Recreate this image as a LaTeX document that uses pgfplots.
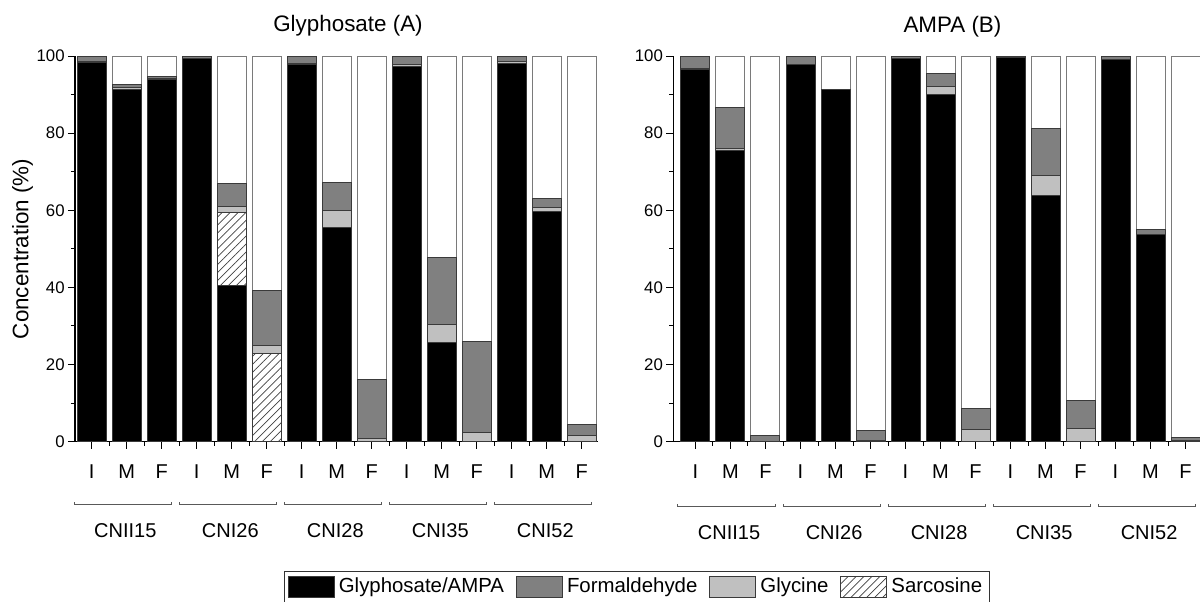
\documentclass[border=0pt]{standalone}
\usepackage{pgfplots}
\pgfplotsset{compat=1.18}
\usepackage{pgfplotstable}
\usepackage{fontspec}
\setmainfont{Liberation Sans}
\usetikzlibrary{patterns.meta}
\definecolor{formgray}{HTML}{808080}
\definecolor{glygray}{HTML}{C0C0C0}
\definecolor{edge}{HTML}{3A3A3A}
\definecolor{restedge}{HTML}{7A7A7A}

% Glyphosate (A): bottom to top: Glyphosate, Sarcosine, Glycine, Formaldehyde, rest
\pgfplotstableread{
x glyph sarc gly form rest
0  98.2 0    0.3 1.5  0
1  91.3 0    0.5 0.9  7.3
2  93.9 0    0.2 0.7  5.2
3  99.3 0    0   0.7  0
4  40.4 19.1 1.4 6.1  33.0
5  0    22.9 2.1 14.2 60.8
6  97.7 0    0.4 1.9  0
7  55.6 0    4.3 7.3  32.8
8  0    0    0.8 15.4 83.8
9  97.2 0    0.6 2.2  0
10 25.7 0    4.6 17.5 52.2
11 0    0    2.3 23.6 74.1
12 98.1 0    0.4 1.5  0
13 59.7 0    1.0 2.4  36.9
14 0    0    1.5 3.0  95.5
}\tabA

% AMPA (B)
\pgfplotstableread{
x glyph sarc gly form rest
0  96.5 0 0.2 3.3  0
1  75.4 0 0.5 10.7 13.4
2  0    0 0   1.5  98.5
3  97.8 0 0   2.2  0
4  91.4 0 0   0    8.6
5  0.4  0 0   2.6  97.0
6  99.3 0 0   0.7  0
7  90.0 0 2.1 3.4  4.5
8  0    0 3.2 5.4  91.4
9  99.5 0 0   0.5  0
10 63.8 0 5.2 12.1 18.9
11 0    0 3.3 7.5  89.2
12 99.1 0 0   0.9  0
13 53.6 0 0   1.5  44.9
14 0.4  0 0   0.7  98.9
}\tabB

\pgfplotsset{
  mybox/.style={legend image code/.code={\draw[##1] (0pt,-5.25pt) rectangle (23pt,5.25pt);}},
  panel/.style={
    scale only axis, height=192.85pt,
    ymin=0, ymax=100, ybar stacked, bar width=14.5pt,
    axis lines*=left, axis line style={line width=0.6pt, black},
    ytick={0,20,...,100}, minor ytick={10,30,...,90},
    xtick={0,...,14}, minor xtick={0.5,1.5,...,13.5},
    xticklabels={I,M,F,I,M,F,I,M,F,I,M,F,I,M,F},
    tick align=outside, major tick length=3.5pt, minor tick length=2pt,
    tick style={black, line width=0.5pt},
    /pgf/number format/assume math mode=true,
    yticklabel style={font=\fontsize{8.4}{10}\selectfont, inner sep=1.5pt},
    xticklabel style={font=\fontsize{10}{12}\selectfont, yshift=-4.7pt},
    every axis title shift=0pt,
    clip=false,
    every axis plot/.append style={line width=0.5pt},
  },
}

\begin{document}
\begin{tikzpicture}
\path[use as bounding box] (0,0) rectangle (600pt,300.5pt);

% ---------- Glyphosate (A) ----------
\begin{axis}[panel, at={(37.5pt,79.65pt)}, anchor=south west,
  width=261.5pt, xmin=-0.477, xmax=14.466,
  title={Glyphosate (A)},
  title style={at={(axis description cs:0.522,1.063)}, anchor=base, inner sep=0pt, font=\fontsize{11.2}{13}\selectfont},
  ylabel={Concentration (\%)},
  ylabel style={at={(axis description cs:-0.1004,0.5)}, anchor=center, font=\fontsize{11.2}{13}\selectfont},
  legend style={at={(axis description cs:1.0746,-0.3767)}, anchor=center, legend columns=-1,
    draw=black!80, line width=0.5pt, inner sep=1.5pt,
    nodes={inner sep=2pt, font=\fontsize{10.2}{12}\selectfont},
    /tikz/every even column/.append style={column sep=4pt}},
]
\addplot[forget plot, fill=black, draw=edge] table[x=x,y=glyph]{\tabA};
\addplot[forget plot, pattern={Lines[angle=45,distance=2.8pt,line width=0.35pt]}, pattern color=black!75, draw=edge] table[x=x,y=sarc]{\tabA};
\addplot[forget plot, fill=glygray, draw=edge] table[x=x,y=gly]{\tabA};
\addplot[forget plot, fill=formgray, draw=edge] table[x=x,y=form]{\tabA};
\addplot[forget plot, fill=white, draw=restedge] table[x=x,y=rest]{\tabA};

\addlegendimage{mybox, fill=black, draw=edge}
\addlegendentry{Glyphosate/AMPA}
\addlegendimage{mybox, fill=formgray, draw=edge}
\addlegendentry{Formaldehyde}
\addlegendimage{mybox, fill=glygray, draw=edge}
\addlegendentry{Glycine}
\addlegendimage{mybox, pattern={Lines[angle=45,distance=2.8pt,line width=0.35pt]}, pattern color=black!75, draw=edge}
\addlegendentry{Sarcosine}

\draw[black!65, line width=0.5pt] ([yshift=-30.3pt]axis cs:-0.5,0) |- ([yshift=-31.3pt]axis cs:2.28,0) -- ([yshift=-30.3pt]axis cs:2.28,0);
\draw[black!65, line width=0.5pt] ([yshift=-30.3pt]axis cs:2.5,0) |- ([yshift=-31.3pt]axis cs:5.28,0) -- ([yshift=-30.3pt]axis cs:5.28,0);
\draw[black!65, line width=0.5pt] ([yshift=-30.3pt]axis cs:5.5,0) |- ([yshift=-31.3pt]axis cs:8.28,0) -- ([yshift=-30.3pt]axis cs:8.28,0);
\draw[black!65, line width=0.5pt] ([yshift=-30.3pt]axis cs:8.5,0) |- ([yshift=-31.3pt]axis cs:11.28,0) -- ([yshift=-30.3pt]axis cs:11.28,0);
\draw[black!65, line width=0.5pt] ([yshift=-30.3pt]axis cs:11.5,0) |- ([yshift=-31.3pt]axis cs:14.28,0) -- ([yshift=-30.3pt]axis cs:14.28,0);
\node[font=\fontsize{10}{12}\selectfont] at ([yshift=-44.65pt]axis cs:0.96,0) {CNII15};
\node[font=\fontsize{10}{12}\selectfont] at ([yshift=-44.65pt]axis cs:3.96,0) {CNI26};
\node[font=\fontsize{10}{12}\selectfont] at ([yshift=-44.65pt]axis cs:6.96,0) {CNI28};
\node[font=\fontsize{10}{12}\selectfont] at ([yshift=-44.65pt]axis cs:9.96,0) {CNI35};
\node[font=\fontsize{10}{12}\selectfont] at ([yshift=-44.65pt]axis cs:12.96,0) {CNI52};
\end{axis}

% ---------- AMPA (B) ----------
\begin{axis}[panel, at={(336.65pt,79.65pt)}, anchor=south west,
  width=263.35pt, xmin=-0.634, xmax=14.414,
  title={AMPA (B)},
  title style={at={(axis description cs:0.530,1.0615)}, anchor=base, inner sep=0pt, font=\fontsize{11.2}{13}\selectfont},
]
\addplot[forget plot, fill=black, draw=edge] table[x=x,y=glyph]{\tabB};
\addplot[forget plot, pattern={Lines[angle=45,distance=2.8pt,line width=0.35pt]}, pattern color=black!75, draw=edge] table[x=x,y=sarc]{\tabB};
\addplot[forget plot, fill=glygray, draw=edge] table[x=x,y=gly]{\tabB};
\addplot[forget plot, fill=formgray, draw=edge] table[x=x,y=form]{\tabB};
\addplot[forget plot, fill=white, draw=restedge] table[x=x,y=rest]{\tabB};

\draw[black!65, line width=0.5pt] ([yshift=-31.15pt]axis cs:-0.5,0) |- ([yshift=-32.15pt]axis cs:2.28,0) -- ([yshift=-31.15pt]axis cs:2.28,0);
\draw[black!65, line width=0.5pt] ([yshift=-31.15pt]axis cs:2.5,0) |- ([yshift=-32.15pt]axis cs:5.28,0) -- ([yshift=-31.15pt]axis cs:5.28,0);
\draw[black!65, line width=0.5pt] ([yshift=-31.15pt]axis cs:5.5,0) |- ([yshift=-32.15pt]axis cs:8.28,0) -- ([yshift=-31.15pt]axis cs:8.28,0);
\draw[black!65, line width=0.5pt] ([yshift=-31.15pt]axis cs:8.5,0) |- ([yshift=-32.15pt]axis cs:11.28,0) -- ([yshift=-31.15pt]axis cs:11.28,0);
\draw[black!65, line width=0.5pt] ([yshift=-31.15pt]axis cs:11.5,0) |- ([yshift=-32.15pt]axis cs:14.28,0) -- ([yshift=-31.15pt]axis cs:14.28,0);
\node[font=\fontsize{10}{12}\selectfont] at ([yshift=-45.4pt]axis cs:0.96,0) {CNII15};
\node[font=\fontsize{10}{12}\selectfont] at ([yshift=-45.4pt]axis cs:3.96,0) {CNI26};
\node[font=\fontsize{10}{12}\selectfont] at ([yshift=-45.4pt]axis cs:6.96,0) {CNI28};
\node[font=\fontsize{10}{12}\selectfont] at ([yshift=-45.4pt]axis cs:9.96,0) {CNI35};
\node[font=\fontsize{10}{12}\selectfont] at ([yshift=-45.4pt]axis cs:12.96,0) {CNI52};
\end{axis}
\end{tikzpicture}
\end{document}
